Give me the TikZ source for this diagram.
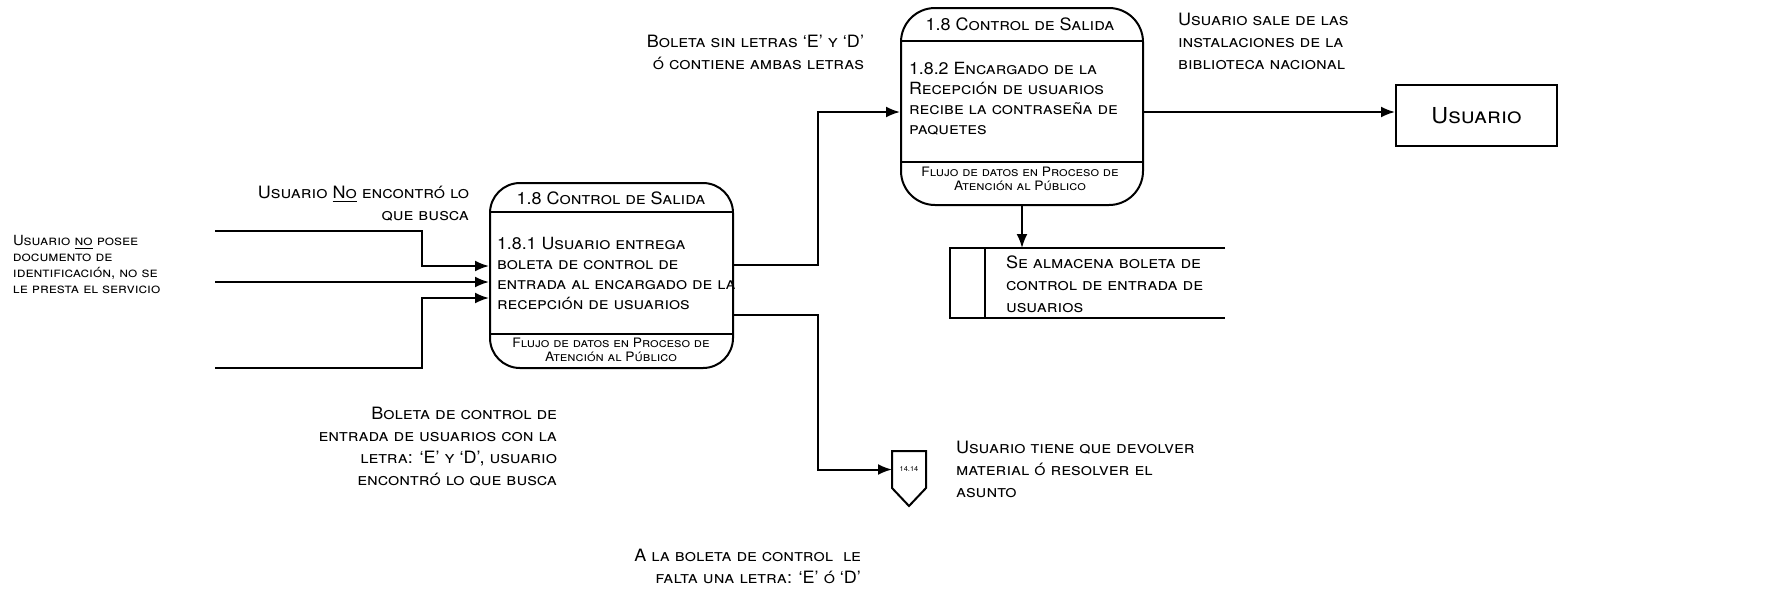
\documentclass[tikz,border=0pt]{standalone}
\usepackage{fontspec}
\setmainfont[FakeStretch=1.06]{TeX Gyre Heros}
\usetikzlibrary{arrows.meta}
\usetikzlibrary{positioning}
\tikzset{proc/.style = {draw, rectangle, line width=1pt, inner sep=0pt}}
\tikzset{ptitle/.style = {font=\fontsize{8.5}{10}\selectfont\scshape, inner sep=0pt}}
\tikzset{pbody/.style = {font=\fontsize{8.4}{10}\selectfont\scshape, align=left, inner sep=0pt, anchor=west}}
\tikzset{pfoot/.style = {font=\fontsize{6.5}{7}\selectfont\scshape, align=center, inner sep=0pt}}
\tikzset{lbl/.style = {font=\fontsize{8.5}{11}\selectfont\scshape, inner sep=0pt}}
\tikzset{flow/.style = {line width=1pt, -{Latex[length=7pt, width=5.5pt]}}}

\begin{document}
\begin{tikzpicture}[x=0.5pt, y=-0.5pt, line width=1pt]
    \useasboundingbox (0,0) rectangle (1765,596);

    % procesos
    \node [proc, rounded corners=15pt, minimum width=121.5pt, minimum height=92.5pt] (p1) at (611.5,275.5) {};
    \draw ([yshift=-15pt]p1.north west) -- ([yshift=-15pt]p1.north east);
    \draw ([yshift=17.5pt]p1.south west) -- ([yshift=17.5pt]p1.south east);
    \node [ptitle] (p1t) at (611,198) {1.8 Control de Salida};
    \node [pbody] (p1b) at (496,273) {1.8.1 Usuario entrega\\boleta de control de\\entrada al encargado de la\\recepción de usuarios};
    \node [pfoot] (p1f) at (611,350) {Flujo de datos en Proceso de\\Atención al Público};

    \node [proc, rounded corners=17pt, minimum width=121pt, minimum height=98.5pt] (p2) at (1022,106.5) {};
    \draw ([yshift=-17pt]p2.north west) -- ([yshift=-17pt]p2.north east);
    \draw ([yshift=22pt]p2.south west) -- ([yshift=22pt]p2.south east);
    \node [ptitle] (p2t) at (1020,24) {1.8 Control de Salida};
    \node [pbody] (p2b) at (908,99) {1.8.2 Encargado de la\\Recepción de usuarios\\recibe la contraseña de\\paquetes};
    \node [pfoot] (p2f) at (1020,179) {Flujo de datos en Proceso de\\Atención al Público};

    % entidad
    \node [proc, minimum width=80.5pt, minimum height=30.5pt,
           font=\fontsize{11}{13}\selectfont\scshape] (usr) at (1476.5,115.5) {Usuario};

    % almacen
    \draw (1225,248) -- (950,248) -- (950,318) -- (1225,318);
    \draw (985,248) -- (985,318);
    \coordinate (dstop) at (1020,248);
    \node [lbl, align=left, anchor=west] (ds) at (1005,284) {Se almacena boleta de\\control de entrada de\\usuarios};

    % conector
    \node [inner sep=0pt, minimum width=16pt, minimum height=17.5pt,
           font=\fontsize{3.5}{4}\selectfont] (opc) at (909,469.5) {14.14};
    \draw (opc.south west) -- (opc.north west) -- (opc.north east) -- (opc.south east)
          -- ([yshift=-9pt]opc.south) -- cycle;

    % flujos de entrada
    \coordinate (in1) at (215,231);
    \coordinate (in2) at (215,282);
    \coordinate (in3) at (215,368);
    \coordinate (j1) at (422,266);
    \coordinate (j3) at (422,298);
    \draw [flow] (in1) -| (j1) -- (j1 -| p1.west);
    \draw [flow] (in2) -- (in2 -| p1.west);
    \draw [flow] (in3) -| (j3) -- (j3 -| p1.west);

    % flujos de salida
    \coordinate (k1) at (818,265);
    \coordinate (k2) at (818,112);
    \coordinate (k3) at (818,315);
    \coordinate (k4) at (818,469.5);
    \draw [flow] (k1 -| p1.east) -- (k1) -- (k2) -- (k2 -| p2.west);
    \draw [flow] (k2 -| p2.east) -- (k2 -| usr.west);
    \draw [flow] (k3 -| p1.east) -- (k3) -- (k4) -- (opc.west);
    \draw [flow] (p2.south) -- (p2.south |- dstop);

    % etiquetas
    \node [lbl, align=right, anchor=east] (l1) at (470,204) {Usuario \underline{No} encontró lo\\que busca};
    \node [lbl, align=left, anchor=west, font=\fontsize{7}{8}\selectfont\scshape] (l2) at (12,264)
          {Usuario \underline{no} posee\\documento de\\identificación, no se\\le presta el servicio};
    \node [lbl, align=right, anchor=east] (l3) at (558,447)
          {Boleta de control de\\entrada de usuarios con la\\letra: `E' y `D', usuario\\encontró lo que busca};
    \node [lbl, align=right, anchor=east] (l4) at (862,566) {A la boleta de control~~le\\falta una letra: `E' ó `D'};
    \node [lbl, align=left, anchor=west] (l5) at (955,469) {Usuario tiene que devolver\\material ó resolver el\\asunto};
    \node [lbl, align=left, anchor=west] (l6) at (1177,41) {Usuario sale de las\\instalaciones de la\\biblioteca nacional};
    \node [lbl, align=right, anchor=east] (l7) at (865,52) {Boleta sin letras `E' y `D'\\ó contiene ambas letras};
  \end{tikzpicture}
\end{document}
